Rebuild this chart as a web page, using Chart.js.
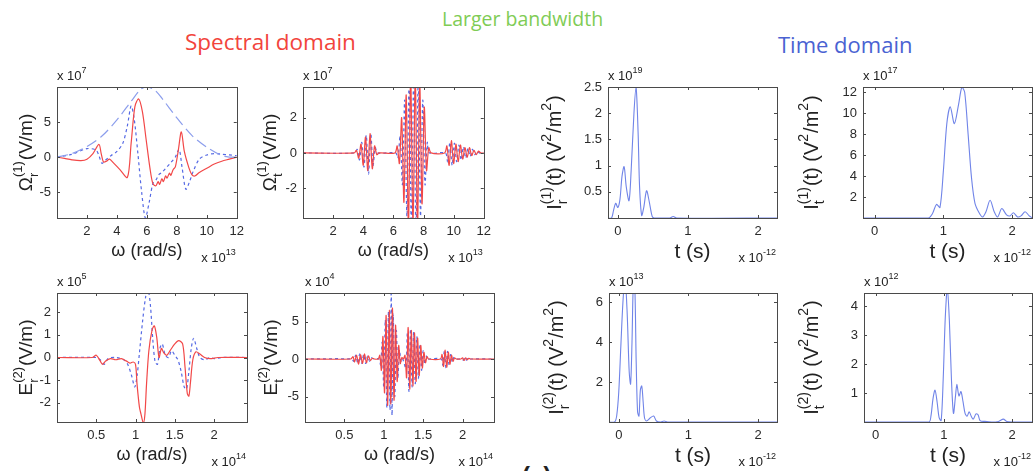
<!DOCTYPE html>
<html>
<head>
<meta charset="utf-8">
<script src="https://cdn.jsdelivr.net/npm/chart.js@4/dist/chart.umd.min.js"></script>
<style>
    body { margin: 0; background: #fff; width: 1035px; height: 471px; overflow: hidden; position: relative; }
    .title { position: absolute; font-family: "Open Sans", sans-serif; line-height: 1; white-space: nowrap; }
    .tag { position: absolute; font-family: "Liberation Sans", Arial, sans-serif; font-size: 24px; font-weight: bold; color: #222; }
    canvas { position: absolute; }
</style>
</head>
<body>
<div class="title" style="left:185px; top:31px; font-size:22.5px; color:#f2443c;">Spectral domain</div>
<div class="title" style="left:442px; top:9px; font-size:19.5px; color:#7fcc55;">Larger bandwidth</div>
<div class="title" style="left:778px; top:33px; font-size:22px; color:#4a62d2;">Time domain</div>
<div class="tag" style="left:522px; top:462px;">(a)</div>
<script>

// ---- spectral domain, pulse 1 (omega x1e13 rad/s, field x1e7 V/m) ----
const env1 = [[0, 0], [1, 0.5], [2, 1.5], [3, 3.0], [4, 5.3], [5, 8.1], [5.6, 9.7], [6, 10], [6.5, 9.6], [7, 8.4],
    [8, 5.6], [9, 3.1], [10, 1.4], [11, 0.2], [11.5, 0], [12, 0]];
const red1 = [[0, 0], [0.5, -0.2], [1, -0.4], [1.6, -0.5], [2, -0.3], [2.4, 0.5], [2.8, 1.8], [2.95, 0.5], [3.1, -0.7],
    [3.3, -0.6], [3.5, -0.3], [3.8, -0.9], [4.2, -1.8], [4.7, -2.9], [4.95, 2], [5.2, 7.2], [5.45, 8.3], [5.7, 6.5],
    [5.95, 2.5], [6.2, -1.5], [6.4, -3.8], [6.6, -4.1], [6.75, -3.5], [6.85, -3.9], [7.0, -3.1], [7.1, -3.5],
    [7.25, -2.7], [7.35, -3.0], [7.5, -2.3], [7.6, -2.6], [7.75, -1.8], [7.9, -1.4], [8.1, 1.0], [8.3, 3.6],
    [8.5, 0.8], [8.8, -1.5], [9.0, -2.5], [9.2, -2.7], [9.5, -2.2], [10, -1.6], [10.5, -1.0], [11, -0.6],
    [11.5, -0.3], [12, 0]];
const dot1 = [[0, 0], [1, 0.4], [2, 1.2], [2.6, 1.0], [2.8, 0.2], [3.0, -0.9], [3.2, -0.5], [3.6, 0.2], [4.0, 0.8],
    [4.4, 2.0], [4.7, 4.5], [4.95, 7.3], [5.15, 5.5], [5.4, 0.5], [5.65, -5], [5.9, -8.7], [6.15, -6.5], [6.4, -3.8],
    [6.6, -3.3], [6.8, -2.5], [7.0, -2.2], [7.3, -1.5], [7.6, -0.8], [7.9, 0], [8.15, 1.1], [8.35, -1.5], [8.6, -4.6],
    [8.85, -3.5], [9.1, -2], [9.5, -0.3], [10, 0.3], [10.5, 0.5], [11, 0.4], [11.5, 0.3], [12, 0.2]];

// transmitted, pulse 1
const red2 = [[0, 0], [3.4, 0], [3.55, 0.15], [3.7, -0.3], [3.85, 0.5], [4.0, -0.7], [4.15, 0.9], [4.3, -1.0],
    [4.45, 1.1], [4.6, -0.9], [4.75, 0.4], [4.9, -0.1], [5.05, 0], [6.1, 0], [6.25, 0.4], [6.4, -0.6], [6.55, 2.0],
    [6.7, -2.8], [6.85, 3.3], [7.0, -4.2], [7.15, 4.5], [7.3, -4.6], [7.45, 4.5], [7.6, -4.3], [7.75, 3.9],
    [7.9, -2.9], [8.05, 2.6], [8.2, -1.0], [8.35, 0.3], [8.5, 0], [9.4, 0], [9.55, 0.4], [9.7, -0.7], [9.85, 0.7],
    [10.0, -0.6], [10.15, 0.5], [10.3, -0.5], [10.45, 0.45], [10.6, -0.35], [10.75, 0.3], [10.9, -0.25],
    [11.05, 0.3], [11.2, -0.15], [11.35, 0.15], [11.5, -0.1], [11.65, 0.1], [11.8, 0], [12, 0]];
const dot2 = [[0, 0], [3.45, 0], [3.6, 0.2], [3.75, -0.4], [3.9, 0.6], [4.05, -0.8], [4.2, 1.0], [4.35, -1.2],
    [4.5, 1.1], [4.65, -0.7], [4.8, 0.3], [4.95, 0], [6.15, 0], [6.3, -0.3], [6.45, 1.0], [6.6, -1.8], [6.75, 3.0],
    [6.9, -3.6], [7.05, 4.3], [7.2, -4.6], [7.35, 4.6], [7.5, -4.5], [7.65, 4.2], [7.8, -3.6], [7.95, 3.0],
    [8.1, -1.8], [8.25, 0.6], [8.4, 0], [9.45, 0], [9.6, -0.5], [9.75, 0.6], [9.9, -0.7], [10.05, 0.55],
    [10.2, -0.5], [10.35, 0.45], [10.5, -0.4], [10.65, 0.35], [10.8, -0.3], [10.95, 0.25], [11.1, -0.2],
    [11.25, 0.2], [11.4, -0.1], [11.55, 0.1], [11.7, 0], [12, 0]];

// ---- time domain, pulse 1 (t x1e-12 s) ----
const int3 = [[-0.15, 0], [-0.09, 0], [-0.06, 0.15], [-0.03, 0.28], [0, 0.2], [0.03, 0.35], [0.06, 0.8], [0.09, 0.98],
    [0.12, 0.6], [0.16, 0.33], [0.19, 0.9], [0.23, 2.0], [0.26, 2.5], [0.29, 1.6], [0.31, 0.6], [0.34, 0.05],
    [0.37, 0.2], [0.41, 0.52], [0.45, 0.3], [0.49, 0.03], [0.52, 0], [0.74, 0], [0.79, 0.03], [0.84, 0], [2.3, 0]];
const int4 = [[-0.17, 0], [0.78, 0], [0.84, 0.4], [0.9, 1.3], [0.95, 1.0], [1.0, 4.5], [1.05, 9.0], [1.1, 10.6],
    [1.16, 9.0], [1.22, 10.8], [1.27, 12.5], [1.31, 12.0], [1.36, 8.0], [1.41, 3.8], [1.46, 1.4], [1.52, 0.5],
    [1.57, 0.1], [1.62, 0.6], [1.68, 1.7], [1.74, 0.6], [1.79, 0.1], [1.85, 0.9], [1.92, 0.3], [1.97, 0.2],
    [2.02, 0.5], [2.08, 0.1], [2.13, 0.2], [2.19, 0.6], [2.25, 0.2], [2.3, 0]];

// ---- spectral domain, pulse 2 (omega x1e14 rad/s) ----
const red5 = [[0, 0], [0.45, 0], [0.5, 0.1], [0.55, -0.15], [0.58, -0.3], [0.62, -0.15], [0.68, -0.05], [0.75, -0.1],
    [0.82, -0.05], [0.88, -0.15], [0.93, -0.25], [0.97, -0.2], [1.0, -0.3], [1.02, -1.2], [1.05, -2.2], [1.07, -2.5],
    [1.1, -2.9], [1.12, -2.5], [1.14, -1.2], [1.17, 0.3], [1.21, 1.2], [1.24, 1.4], [1.27, 0.9], [1.3, 0.0],
    [1.33, 0.4], [1.36, 0.2], [1.4, 0.1], [1.44, 0.3], [1.5, 0.6], [1.55, 0.75], [1.6, 0.6], [1.63, -0.4],
    [1.66, -1.6], [1.68, -1.7], [1.7, -1.1], [1.73, -0.1], [1.77, 0.25], [1.82, 0.15], [1.88, 0], [1.95, -0.05],
    [2.05, 0], [2.42, 0]];
const dot5 = [[0, 0], [0.5, 0], [0.55, -0.1], [0.6, -0.3], [0.65, -0.05], [0.75, 0], [0.85, -0.1], [0.9, -0.3],
    [0.95, -0.8], [0.99, -1.3], [1.02, -0.8], [1.05, 0.2], [1.09, 1.6], [1.13, 2.7], [1.16, 3.0], [1.19, 2.3],
    [1.22, 0.8], [1.25, -0.2], [1.28, -0.3], [1.31, 0.4], [1.34, 0.6], [1.38, 0.1], [1.42, 0], [1.46, 0.3],
    [1.5, 0.1], [1.54, -0.1], [1.58, -0.6], [1.62, -1.3], [1.65, -1.4], [1.68, -0.6], [1.71, 0.4], [1.74, 0.85],
    [1.78, 0.4], [1.82, 0], [1.88, -0.1], [1.95, 0], [2.0, -0.05], [2.1, 0], [2.42, 0]];

const red6 = [[0, 0], [0.58, 0], [0.61, 0.3], [0.63, -0.4], [0.655, 0.5], [0.68, -0.7], [0.705, 0.6], [0.73, -0.6],
    [0.755, 0.7], [0.78, -0.5], [0.805, 0.4], [0.83, -0.2], [0.855, 0.1], [0.88, 0], [0.93, 0], [0.95, 0.5],
    [0.97, -1.5], [0.99, 3.0], [1.01, -4.5], [1.03, 5.8], [1.05, -6.2], [1.07, 6.5], [1.09, -6.0], [1.11, 6.8],
    [1.13, -5.5], [1.15, 4.5], [1.17, -3.0], [1.19, 1.8], [1.21, -0.6], [1.23, 0.2], [1.25, 0], [1.27, 0.5],
    [1.29, -2.5], [1.31, 4.2], [1.33, -4.0], [1.35, 3.8], [1.37, -3.6], [1.39, 3.5], [1.41, -3.0], [1.43, 2.8],
    [1.45, -2.2], [1.47, 1.8], [1.49, -1.2], [1.51, 0.9], [1.53, -0.5], [1.55, 0.3], [1.57, 0], [1.72, 0],
    [1.74, 0.6], [1.76, -1.0], [1.78, 1.2], [1.8, -1.1], [1.82, 0.9], [1.84, -0.7], [1.86, 0.5], [1.88, -0.3],
    [1.9, 0.15], [1.92, 0], [1.98, 0], [2.0, 0.15], [2.02, -0.2], [2.04, 0.15], [2.06, -0.1], [2.08, 0.1],
    [2.1, 0], [2.42, 0]];
const dot6 = [[0, 0], [0.59, 0], [0.62, -0.3], [0.645, 0.5], [0.67, -0.6], [0.695, 0.7], [0.72, -0.6], [0.745, 0.6],
    [0.77, -0.6], [0.795, 0.4], [0.82, -0.3], [0.845, 0.15], [0.87, 0], [0.94, 0], [0.96, -0.8], [0.98, 2.2],
    [1.0, -3.8], [1.02, 5.2], [1.04, -6.5], [1.06, 6.3], [1.08, -6.8], [1.095, 9.5], [1.105, -7.5], [1.12, 6.0],
    [1.14, -5.0], [1.16, 3.8], [1.18, -2.4], [1.2, 1.2], [1.22, -0.4], [1.24, 0], [1.28, -1.2], [1.3, 3.5],
    [1.32, -4.3], [1.34, 4.0], [1.36, -3.7], [1.38, 3.6], [1.4, -3.3], [1.42, 3.0], [1.44, -2.6], [1.46, 2.0],
    [1.48, -1.5], [1.5, 1.1], [1.52, -0.7], [1.54, 0.4], [1.56, -0.15], [1.58, 0], [1.73, 0], [1.75, -0.8],
    [1.77, 1.1], [1.79, -1.2], [1.81, 1.0], [1.83, -0.8], [1.85, 0.6], [1.87, -0.4], [1.89, 0.2], [1.91, 0],
    [1.99, 0], [2.01, -0.15], [2.03, 0.2], [2.05, -0.15], [2.07, 0.1], [2.09, -0.05], [2.11, 0], [2.42, 0]];

// ---- time domain, pulse 2 ----
const int7 = [[-0.15, 0], [-0.06, 0], [-0.03, 0.3], [0.0, 1.5], [0.03, 3.8], [0.06, 6.0], [0.09, 7.2], [0.12, 5.5],
    [0.15, 2.5], [0.17, 1.9], [0.19, 4.0], [0.21, 7.0], [0.23, 6.8], [0.25, 3.0], [0.27, 0.5], [0.29, 0.3],
    [0.31, 1.6], [0.33, 1.8], [0.35, 1.0], [0.37, 0.2], [0.4, 0.05], [0.45, 0.2], [0.5, 0.3], [0.54, 0.05],
    [0.6, 0], [0.65, 0.05], [0.7, 0], [2.3, 0]];
const int8 = [[-0.17, 0], [0.78, 0], [0.81, 0.2], [0.84, 0.8], [0.87, 1.1], [0.9, 0.7], [0.93, 0.15], [0.96, 0.05],
    [0.99, 1.5], [1.02, 3.6], [1.05, 4.6], [1.08, 3.5], [1.11, 1.5], [1.14, 0.3], [1.17, 0.9], [1.19, 1.3],
    [1.22, 0.9], [1.25, 1.05], [1.28, 0.7], [1.31, 0.3], [1.34, 0.2], [1.37, 0.35], [1.4, 0.2], [1.43, 0.1],
    [1.47, 0.28], [1.5, 0.25], [1.53, 0.05], [1.6, 0.02], [1.7, 0], [1.8, 0.02], [1.87, 0.1], [1.92, 0.02],
    [2.0, 0], [2.3, 0]];

// tick values
const omegaTicksA = [2, 4, 6, 8, 10, 12];
const omegaTicksB = [0.5, 1, 1.5, 2];
const timeTicks = [0, 1, 2];

const FONT = '"Liberation Sans", Arial, sans-serif';
const styles = {
    red: { borderColor: 'rgb(242,72,72)', borderWidth: 1.2 },
    dot: { borderColor: 'rgb(85,105,228)', borderWidth: 1.2, borderDash: [3, 3] },
    env: { borderColor: 'rgb(140,158,236)', borderWidth: 1.2, borderDash: [11, 5] },
    time: { borderColor: 'rgb(112,132,232)', borderWidth: 1.1 }
};

const panels = [
    { box: [57, 87, 247, 218], x: [0, 12], y: [-8.7, 10], xt: omegaTicksA, yt: [-5, 0, 5],
      xExp: '13', yExp: '7', xLab: 'ω (rad/s)', xSize: 18, labX: 25, labSize: 19,
      yLab: ['Ω', { sup: '(1)', sub: 'r' }, '(V/m)'], series: [[env1, 'env'], [red1, 'red'], [dot1, 'dot']] },
    { box: [303, 87, 494, 218], x: [0, 12], y: [-3.7, 3.75], xt: omegaTicksA, yt: [-2, 0, 2],
      xExp: '13', yExp: '7', xLab: 'ω (rad/s)', xSize: 18, labX: 269, labSize: 19,
      yLab: ['Ω', { sup: '(1)', sub: 't' }, '(V/m)'], series: [[red2, 'red'], [dot2, 'dot']] },
    { box: [608, 87, 777, 218], x: [-0.14, 2.27], y: [0, 2.5], xt: timeTicks, yt: [0.5, 1, 1.5, 2, 2.5],
      xExp: '-12', yExp: '19', xLab: 't (s)', xSize: 21, labX: 554, labSize: 20,
      yLab: ['I', { sup: '(1)', sub: 'r' }, '(t) (V', { sup: '2' }, '/m', { sup: '2' }, ')'], series: [[int3, 'time']] },
    { box: [863, 87, 1032, 218], x: [-0.17, 2.29], y: [0, 12.5], xt: timeTicks, yt: [2, 4, 6, 8, 10, 12],
      xExp: '-12', yExp: '17', xLab: 't (s)', xSize: 21, labX: 811, labSize: 20,
      yLab: ['I', { sup: '(1)', sub: 't' }, '(t) (V', { sup: '2' }, '/m', { sup: '2' }, ')'], series: [[int4, 'time']] },
    { box: [57, 293, 247, 422], x: [0, 2.42], y: [-2.85, 2.85], xt: omegaTicksB, yt: [-2, -1, 0, 1, 2],
      xExp: '14', yExp: '5', xLab: 'ω (rad/s)', xSize: 18, labX: 25, labSize: 19,
      yLab: ['E', { sup: '(2)', sub: 'r' }, '(V/m)'], series: [[red5, 'red'], [dot5, 'dot']] },
    { box: [305, 293, 494, 422], x: [0, 2.4], y: [-8.4, 8.8], xt: omegaTicksB, yt: [-5, 0, 5],
      xExp: '14', yExp: '4', xLab: 'ω (rad/s)', xSize: 18, labX: 270, labSize: 19,
      yLab: ['E', { sup: '(2)', sub: 't' }, '(V/m)'], series: [[red6, 'red'], [dot6, 'dot']] },
    { box: [609, 293, 777, 422], x: [-0.14, 2.27], y: [0, 6.45], xt: timeTicks, yt: [2, 4, 6],
      xExp: '-12', yExp: '13', xLab: 't (s)', xSize: 21, labX: 556, labSize: 20,
      yLab: ['I', { sup: '(2)', sub: 'r' }, '(t) (V', { sup: '2' }, '/m', { sup: '2' }, ')'], series: [[int7, 'time']] },
    { box: [864, 293, 1032, 422], x: [-0.17, 2.29], y: [0, 4.45], xt: timeTicks, yt: [1, 2, 3, 4],
      xExp: '-12', yExp: '12', xLab: 't (s)', xSize: 21, labX: 811, labSize: 20,
      yLab: ['I', { sup: '(2)', sub: 't' }, '(t) (V', { sup: '2' }, '/m', { sup: '2' }, ')'], series: [[int8, 'time']] }
];

// text with sub/superscripts, optionally rotated for the y axis
function drawRich(ctx, runs, x, y, size, align, rotate) {
    const big = size + 'px ' + FONT;
    const small = Math.round(size * 0.68) + 'px ' + FONT;
    const widths = runs.map(r => {
        if (typeof r === 'string') {
            ctx.font = big;
            return ctx.measureText(r).width;
        }
        ctx.font = small;
        return Math.max(ctx.measureText(r.sup || '').width, ctx.measureText(r.sub || '').width) + 1;
    });
    const total = widths.reduce((a, b) => a + b, 0);
    ctx.save();
    ctx.translate(x, y);
    if (rotate) ctx.rotate(-Math.PI / 2);
    let cx = align === 'left' ? 0 : align === 'right' ? -total : -total / 2;
    const base = size * 0.36;
    ctx.textAlign = 'left';
    ctx.textBaseline = 'alphabetic';
    runs.forEach((r, i) => {
        if (typeof r === 'string') {
            ctx.font = big;
            ctx.fillText(r, cx, base);
        } else {
            ctx.font = small;
            if (r.sup) ctx.fillText(r.sup, cx, base - size * 0.52);
            if (r.sub) ctx.fillText(r.sub, cx, base + size * 0.3);
        }
        cx += widths[i];
    });
    ctx.restore();
}

// matlab-like box, inward ticks and axis labels
const boxPlugin = {
    id: 'box',
    afterDraw(chart, args, o) {
        const { ctx, chartArea: a, scales } = chart;
        ctx.save();
        ctx.strokeStyle = '#4a4a4a';
        ctx.lineWidth = 1;
        ctx.beginPath();
        scales.x.ticks.forEach(t => {
            const px = Math.round(scales.x.getPixelForValue(t.value)) + 0.5;
            ctx.moveTo(px, a.bottom); ctx.lineTo(px, a.bottom - 3);
            ctx.moveTo(px, a.top); ctx.lineTo(px, a.top + 3);
        });
        scales.y.ticks.forEach(t => {
            const py = Math.round(scales.y.getPixelForValue(t.value)) + 0.5;
            ctx.moveTo(a.left, py); ctx.lineTo(a.left + 3, py);
            ctx.moveTo(a.right, py); ctx.lineTo(a.right - 3, py);
        });
        ctx.stroke();
        ctx.strokeRect(Math.round(a.left) + 0.5, Math.round(a.top) + 0.5,
            Math.round(a.right - a.left), Math.round(a.bottom - a.top));

        ctx.fillStyle = '#222';
        drawRich(ctx, ['x 10', { sup: o.yExp }], a.left, a.top - 12, 13, 'left', false);
        drawRich(ctx, ['x 10', { sup: o.xExp }], a.right, a.bottom + 39, 13, 'right', false);
        drawRich(ctx, [o.xLab], (a.left + a.right) / 2, a.bottom + 32, o.xSize, 'center', false);
        drawRich(ctx, o.yLab, o.labX, (a.top + a.bottom) / 2, o.labSize, 'center', true);
        ctx.restore();
    }
};

panels.forEach(p => {
    const [l, t, r, b] = p.box;
    const cl = l - 80, ct = t - 30;
    const cw = Math.min(r - l + 83, 1035 - cl), ch = b - t + 80;
    const canvas = document.createElement('canvas');
    canvas.width = cw;
    canvas.height = ch;
    canvas.style.left = cl + 'px';
    canvas.style.top = ct + 'px';
    document.body.appendChild(canvas);

    const tickFont = { family: FONT, size: 13 };
    new Chart(canvas.getContext('2d'), {
        type: 'line',
        data: {
            datasets: p.series.map(([pts, kind]) => Object.assign({
                data: pts.map(([x, y]) => ({ x, y })),
                pointRadius: 0,
                tension: 0.3,
                fill: false
            }, styles[kind]))
        },
        options: {
            responsive: false,
            animation: false,
            devicePixelRatio: 1,
            layout: { padding: { left: 0, top: t - ct, right: cl + cw - r, bottom: 0 } },
            plugins: {
                legend: { display: false },
                tooltip: { enabled: false },
                box: { xExp: p.xExp, yExp: p.yExp, xLab: p.xLab, xSize: p.xSize, yLab: p.yLab,
                       labX: p.labX - cl, labSize: p.labSize }
            },
            scales: {
                x: {
                    type: 'linear',
                    min: p.x[0],
                    max: p.x[1],
                    grid: { display: false, drawTicks: false },
                    border: { display: false },
                    afterBuildTicks: s => { s.ticks = p.xt.map(v => ({ value: v })); },
                    afterFit: s => { s.height = ct + ch - b; },
                    ticks: { font: tickFont, color: '#2a2a2a', padding: 6, maxRotation: 0, autoSkip: false,
                             callback: v => String(v) }
                },
                y: {
                    type: 'linear',
                    min: p.y[0],
                    max: p.y[1],
                    grid: { display: false, drawTicks: false },
                    border: { display: false },
                    afterBuildTicks: s => { s.ticks = p.yt.map(v => ({ value: v })); },
                    afterFit: s => { s.width = l - cl; },
                    ticks: { font: tickFont, color: '#2a2a2a', padding: 6, autoSkip: false,
                             callback: v => String(v) }
                }
            }
        },
        plugins: [boxPlugin]
    });
});
</script>
</body>
</html>
